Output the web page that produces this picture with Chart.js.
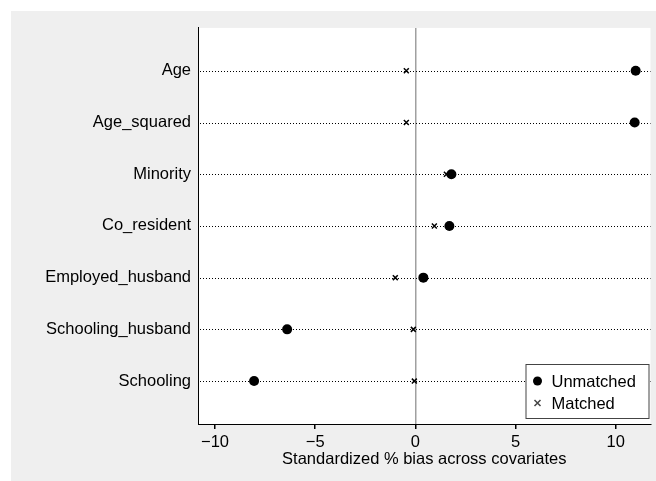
<!DOCTYPE html>
<html>
<head>
<meta charset="utf-8">
<script src="https://cdn.jsdelivr.net/npm/chart.js@4"></script>
<style>
  html, body { margin: 0; padding: 0; background: #ffffff; }
  #wrap { position: absolute; left: 11px; top: 11px; width: 645px; height: 470px; background: #efefef; }
</style>
</head>
<body>
<div id="wrap"><canvas id="grafico" width="645" height="470"></canvas></div>
<script>
// covariaveis (de cima para baixo)
const covariates = ['Age', 'Age_squared', 'Minority', 'Co_resident', 'Employed_husband', 'Schooling_husband', 'Schooling'];
// vies padronizado (%) antes e depois do pareamento
const unmatched = [11.0, 10.95, 1.8, 1.7, 0.4, -6.4, -8.05];
const matched = [-0.45, -0.45, 1.55, 0.95, -1.0, -0.1, -0.05];
const xTicks = [-10, -5, 0, 5, 10];

const FONT = 'Liberation Sans, Arial, Helvetica, sans-serif';
const FSIZE = 16.5;

function toPoints(values) {
    return values.map((v, i) => ({ x: v, y: i }));
}

// fundo branco da area de plotagem + linhas pontilhadas por covariavel
const fundoPontilhado = {
    id: 'fundoPontilhado',
    beforeDraw(chart) {
        const { ctx, chartArea: a } = chart;
        ctx.save();
        ctx.fillStyle = '#ffffff';
        ctx.fillRect(a.left, a.top, a.right - a.left, a.bottom - a.top);
        ctx.restore();
    },
    beforeDatasetsDraw(chart) {
        const { ctx, chartArea: a } = chart;
        const yScale = chart.scales.y;
        ctx.save();
        ctx.strokeStyle = '#000';
        ctx.lineWidth = 1;
        ctx.setLineDash([1, 2]);
        covariates.forEach((c, i) => {
            const y = Math.round(yScale.getPixelForValue(i)) + 0.5;
            ctx.beginPath();
            ctx.moveTo(a.left + 2, y);
            ctx.lineTo(a.right, y);
            ctx.stroke();
        });
        ctx.restore();
    }
};

// legenda dentro da area do grafico (canto inferior direito)
const legendaStata = {
    id: 'legendaStata',
    afterDraw(chart) {
        const ctx = chart.ctx;
        const area = chart.chartArea;
        const w = 123, h = 54;
        const x0 = area.right - 2 - w;
        const y0 = area.bottom - 6 - h;
        ctx.save();
        ctx.fillStyle = '#ffffff';
        ctx.fillRect(x0, y0, w, h);
        ctx.strokeStyle = '#444444';
        ctx.lineWidth = 1;
        ctx.strokeRect(x0 + 0.5, y0 + 0.5, w, h);
        ctx.font = FSIZE + 'px ' + FONT;
        ctx.textBaseline = 'middle';
        ctx.fillStyle = '#000';
        chart.data.datasets.forEach((ds, i) => {
            const cy = y0 + 17 + i * 22;
            const cx = x0 + 12;
            if (ds.pointStyle === 'circle') {
                ctx.beginPath();
                ctx.arc(cx, cy, 4.5, 0, Math.PI * 2);
                ctx.fill();
            } else {
                ctx.beginPath();
                ctx.lineWidth = 1.5;
                ctx.moveTo(cx - 3, cy - 3); ctx.lineTo(cx + 3, cy + 3);
                ctx.moveTo(cx + 3, cy - 3); ctx.lineTo(cx - 3, cy + 3);
                ctx.stroke();
            }
            ctx.fillText(ds.label, x0 + 26, cy + 1);
        });
        ctx.restore();
    }
};

const ctx = document.getElementById('grafico').getContext('2d');
new Chart(ctx, {
    type: 'scatter',
    data: {
        datasets: [
            {
                label: 'Unmatched',
                data: toPoints(unmatched),
                pointStyle: 'circle',
                pointRadius: 5,
                backgroundColor: '#000',
                borderColor: '#000',
                borderWidth: 0
            },
            {
                label: 'Matched',
                data: toPoints(matched),
                pointStyle: 'crossRot',
                pointRadius: 3.5,
                backgroundColor: '#000',
                borderColor: '#000',
                borderWidth: 1.5
            }
        ]
    },
    options: {
        responsive: false,
        animation: false,
        layout: { padding: { top: 16, right: 4, left: 0, bottom: 0 } },
        plugins: {
            legend: { display: false },
            tooltip: { enabled: false }
        },
        scales: {
            x: {
                type: 'linear',
                min: -10.85,
                max: 11.74,
                afterBuildTicks: scale => { scale.ticks = xTicks.map(v => ({ value: v })); },
                afterFit: scale => { scale.height = 57; },
                border: { display: true, color: '#000', width: 1 },
                grid: {
                    drawOnChartArea: true,
                    drawTicks: true,
                    tickLength: 5,
                    tickColor: '#000',
                    color: c => (c.tick && c.tick.value === 0) ? '#a0a0a0' : 'rgba(0,0,0,0)',
                    lineWidth: 1.5
                },
                ticks: {
                    color: '#000',
                    font: { family: FONT, size: FSIZE },
                    padding: 4,
                    maxRotation: 0,
                    callback: v => v < 0 ? '\u2212' + Math.abs(v) : String(v)
                },
                title: {
                    display: true,
                    text: 'Standardized % bias across covariates',
                    color: '#000',
                    font: { family: FONT, size: FSIZE },
                    padding: { top: 0, bottom: 12 }
                }
            },
            y: {
                type: 'linear',
                reverse: true,
                min: -0.83,
                max: 6.83,
                afterBuildTicks: scale => { scale.ticks = covariates.map((c, i) => ({ value: i })); },
                afterFit: scale => { scale.width = 187; },
                border: { display: true, color: '#000', width: 1 },
                grid: { display: true, drawOnChartArea: false, drawTicks: false },
                ticks: {
                    color: '#000',
                    font: { family: FONT, size: FSIZE },
                    padding: 7,
                    callback: v => covariates[v]
                }
            }
        }
    },
    plugins: [fundoPontilhado, legendaStata]
});
</script>
</body>
</html>
